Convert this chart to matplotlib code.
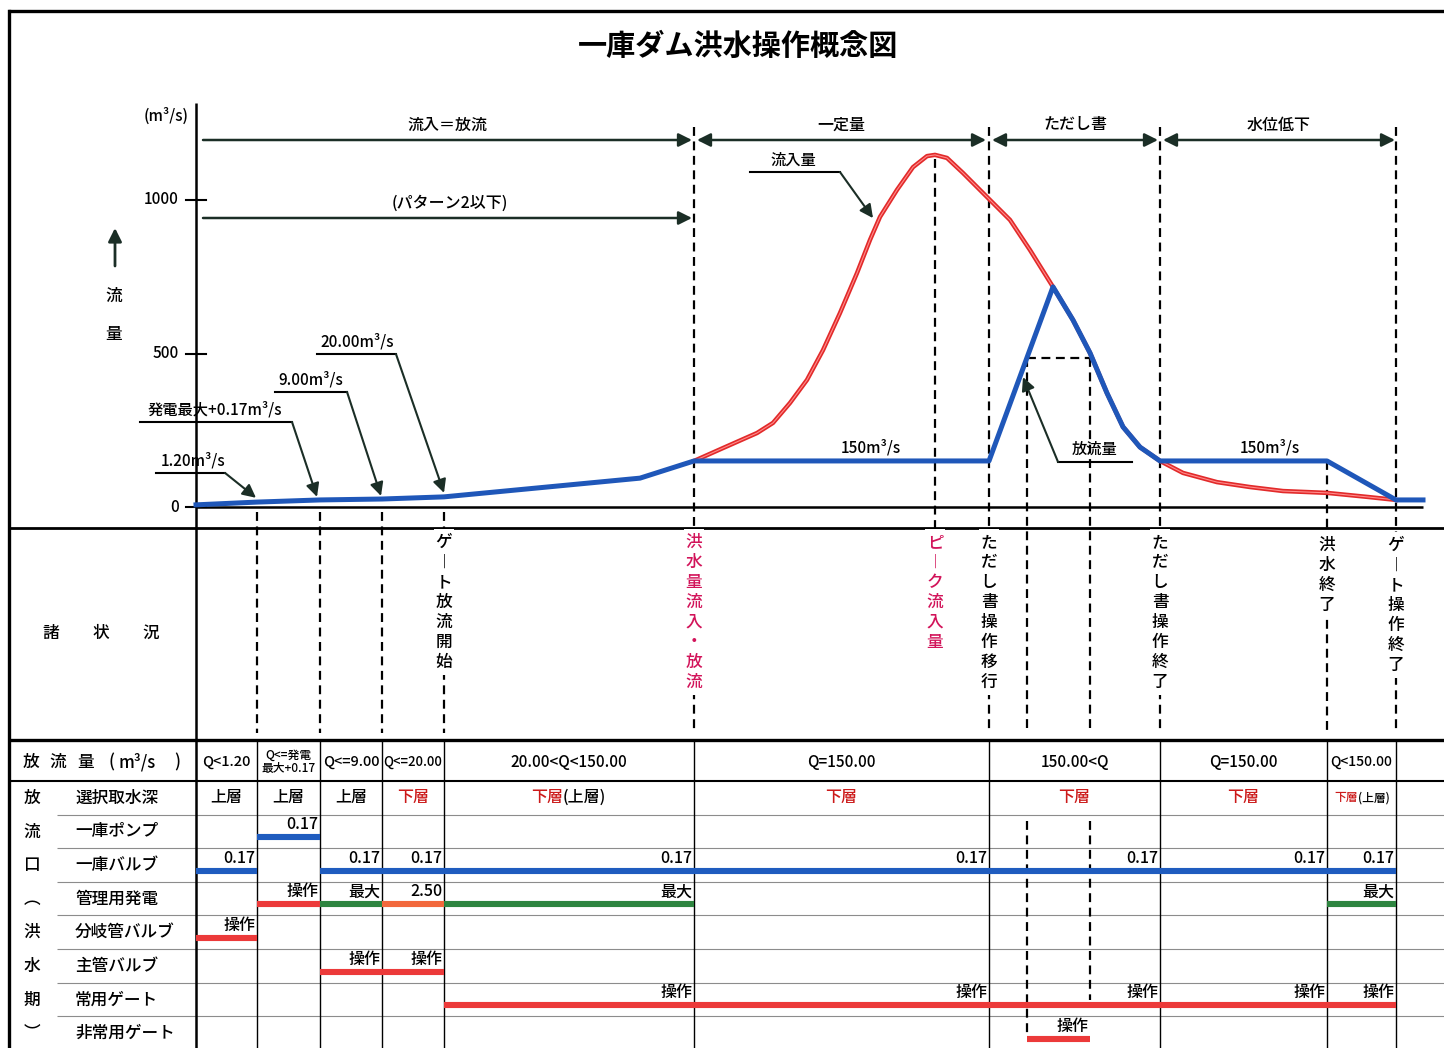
import matplotlib
matplotlib.use('Agg')
import matplotlib.pyplot as plt
from matplotlib.patches import Rectangle

plt.rcParams['font.family'] = ['Noto Sans CJK JP', 'DejaVu Sans']
plt.rcParams['font.weight'] = 'medium'

# ---- data ----
# time in arbitrary units: 0 = start, 120 = end of gate operation
t_inflow = [49.8, 52.7, 56.1, 57.7, 59.4, 61.1, 62.7, 64.4, 66.1, 67.4, 68.4, 70.1,
            71.7, 73.1, 73.9, 75.1, 76.7, 79.4, 81.4, 83.4, 85.7, 87.7, 89.4, 91.1,
            92.7, 94.4, 96.4, 98.7, 102.1, 105.4, 108.7, 113.1, 117.1, 120.0]
q_inflow = [150, 192, 241, 274, 339, 414, 511, 632, 762, 870, 945, 1033,
            1107, 1143, 1147, 1137, 1088, 1000, 935, 837, 717, 609, 502, 371,
            261, 195, 150, 111, 81, 65, 52, 46, 33, 23]

t_outflow = [0, 6.1, 12.4, 18.6, 24.8, 44.4, 49.8, 79.3, 85.7, 87.7, 89.4, 91.1,
             92.7, 94.4, 96.4, 113.1, 120.0, 122.7]
q_outflow = [7, 16, 23, 26, 33, 94, 150, 150, 717, 609, 502, 371,
             261, 195, 150, 150, 23, 23]

y_ticks = [0, 500, 1000]

# phase arrows across the top: (start, end, label, double headed)
phases = [(0.7, 49.6, '流入＝放流', False),
          (50.1, 79.0, '一定量', True),
          (79.6, 96.2, 'ただし書', True),
          (96.7, 119.9, '水位低下', True)]

# event lines: time, label, label colour
events = [(6.1, '', 'k'), (12.4, '', 'k'), (18.6, '', 'k'),
          (24.8, 'ゲート放流開始', 'k'),
          (49.8, '洪水量流入・放流', '#d2145a'),
          (73.9, 'ピーク流入量', '#d2145a'),
          (79.3, 'ただし書操作移行', 'k'),
          (83.1, '', 'k'), (89.4, '', 'k'),
          (96.4, 'ただし書操作終了', 'k'),
          (113.1, '洪水終了', 'k'),
          (120.0, 'ゲート操作終了', 'k')]

# table
col_edges = [0, 6.1, 12.4, 18.6, 24.8, 49.8, 79.3, 96.4, 113.1, 120.0]
q_ranges = ['Q<1.20', 'Q<=発電\n最大+0.17', 'Q<=9.00', 'Q<=20.00', '20.00<Q<150.00',
            'Q=150.00', '150.00<Q', 'Q=150.00', 'Q<150.00']
q_range_size = [10.5, 8.5, 10.5, 9.5, 11, 11, 11, 11, 10]
intake = ['上層', '上層', '上層', '下層', '下層(上層)', '下層', '下層', '下層', '下層(上層)']
row_names = ['選択取水深', '一庫ポンプ', '一庫バルブ', '管理用発電', '分岐管バルブ',
             '主管バルブ', '常用ゲート', '非常用ゲート']
group_chars = ['放', '流', '口', '︵', '洪', '水', '期', '︶']

BLUE, RED, GREEN, ORANGE = '#1f5cbf', '#ec3a3a', '#2e8540', '#f2683c'
# (row, start, end, colour, label)
bars = [(1, 6.1, 12.4, BLUE, '0.17'),
        (2, 0, 6.1, BLUE, '0.17'), (2, 12.4, 18.6, BLUE, '0.17'), (2, 18.6, 24.8, BLUE, '0.17'),
        (2, 24.8, 49.8, BLUE, '0.17'), (2, 49.8, 79.3, BLUE, '0.17'), (2, 79.3, 96.4, BLUE, '0.17'),
        (2, 96.4, 113.1, BLUE, '0.17'), (2, 113.1, 120.0, BLUE, '0.17'),
        (3, 6.1, 12.4, RED, '操作'), (3, 12.4, 18.6, GREEN, '最大'), (3, 18.6, 24.8, ORANGE, '2.50'),
        (3, 24.8, 49.8, GREEN, '最大'), (3, 113.1, 120.0, GREEN, '最大'),
        (4, 0, 6.1, RED, '操作'),
        (5, 12.4, 18.6, RED, '操作'), (5, 18.6, 24.8, RED, '操作'),
        (6, 24.8, 49.8, RED, '操作'), (6, 49.8, 79.3, RED, '操作'), (6, 79.3, 96.4, RED, '操作'),
        (6, 96.4, 113.1, RED, '操作'), (6, 113.1, 120.0, RED, '操作'),
        (7, 83.1, 89.4, RED, '操作')]

# ---- layout helpers (pixel layout of the sheet) ----
Y0_PX, PX_PER_Q = 507, 0.307


def px2t(x):
    return (x - 196) / 10.0


def px2q(y):
    return (Y0_PX - y) / PX_PER_Q


def q2px(q):
    return Y0_PX - PX_PER_Q * q


fig = plt.figure(figsize=(14.44, 10.48), dpi=100)
fig.patch.set_facecolor('white')

ax = fig.add_axes([0, 0, 1, 1])
ax.set_xlim(px2t(0), px2t(1444))
ax.set_ylim(1048, 0)
ax.axis('off')

axh = fig.add_axes([0, 0, 1, 1])
axh.set_xlim(px2t(0), px2t(1444))
axh.set_ylim(px2q(1048), px2q(0))
axh.axis('off')
axh.patch.set_alpha(0)


def hline(y, x0, x1, lw=1.0, color='k'):
    ax.plot([px2t(x0), px2t(x1)], [y, y], color=color, lw=lw, solid_capstyle='butt')


def vline(t, y0, y1, lw=1.0, color='k', ls='-', z=2):
    ax.plot([t, t], [y0, y1], color=color, lw=lw, ls=ls, zorder=z, solid_capstyle='butt')


DASH = (0, (4, 2.5))
HEAD = '#1b2e26'

# frame
hline(11, 8, 1444, lw=2.4)
ax.plot([px2t(9), px2t(9)], [11, 1048], color='k', lw=2.4)
hline(528, 8, 1444, lw=2.0)
hline(740, 8, 1444, lw=2.4)
hline(781, 8, 1444, lw=1.5)
for i in range(1, 8):
    y = 781 + i * 33.6
    hline(y, 57, 1444, lw=0.8, color='#8c8c8c')
vline(0, 103, 1048, lw=1.8)
for t in col_edges[1:]:
    vline(t, 740, 1048, lw=1.0)

ax.text(px2t(738), 46, '一庫ダム洪水操作概念図', fontsize=21, fontweight='bold',
        ha='center', va='center')

# y axis
axh.plot([0, 122.7], [0, 0], color='k', lw=1.8, solid_capstyle='butt')
for q in y_ticks:
    axh.plot([-1.0, 1.0], [q, q], color='k', lw=1.5)
    axh.text(-1.7, q, str(q), ha='right', va='center', fontsize=11)
ax.text(px2t(166), 116, '(m³/s)', ha='center', va='center', fontsize=11)
ax.annotate('', xy=(px2t(115), 228), xytext=(px2t(115), 266),
            arrowprops=dict(arrowstyle='-|>', color=HEAD, lw=2, mutation_scale=20,
                            shrinkA=0, shrinkB=0))
ax.text(px2t(114), 296, '流', ha='center', va='center', fontsize=12)
ax.text(px2t(114), 334, '量', ha='center', va='center', fontsize=12)

# phase arrows
for t0, t1, label, both in phases:
    style = '<|-|>' if both else '-|>'
    ax.annotate('', xy=(t1, 140), xytext=(t0, 140),
                arrowprops=dict(arrowstyle=style, color=HEAD, lw=1.8, mutation_scale=20,
                                shrinkA=0, shrinkB=0))
    ax.text((t0 + t1) / 2, 125, label, ha='center', va='center', fontsize=11.5)
ax.annotate('', xy=(49.6, 218), xytext=(0.7, 218),
            arrowprops=dict(arrowstyle='-|>', color=HEAD, lw=1.8, mutation_scale=20,
                            shrinkA=0, shrinkB=0))
ax.text(px2t(450), 203, '(パターン2以下)', ha='center', va='center', fontsize=11.5)

# event lines and vertical labels
line_top = {49.8: 127, 73.9: q2px(max(q_inflow)) + 4, 79.3: 127, 83.1: q2px(485),
            89.4: q2px(485), 96.4: 127, 113.1: q2px(150), 120.0: 127}
for t, label, color in events:
    top = line_top.get(t, 512)
    bottom = 540 if t == 73.9 else 733
    vline(t, top, bottom, lw=1.6, ls=DASH)
    if label:
        y0 = 545 if t >= 113 else 542
        chars = label.replace('ー', '︱')
        for i, ch in enumerate(chars):
            ax.text(t, y0 + 20 * i, ch, ha='center', va='center', fontsize=12,
                    color=color, zorder=5)
        ax.add_patch(Rectangle((t - 1.0, y0 - 13), 2.0, 20 * (len(chars) - 1) + 26,
                               facecolor='white', edgecolor='none', zorder=4))
# dashed box top and dashed lines inside the table
ax.plot([83.1, 89.4], [q2px(485), q2px(485)], color='k', lw=1.6, ls=DASH)
vline(83.1, 821, 1034, lw=1.6, ls=DASH)
vline(89.4, 821, 1000, lw=1.6, ls=DASH)

# hydrograph
axh.plot(t_inflow, q_inflow, color='#e22a2a', lw=3.2, zorder=3, solid_joinstyle='round')
axh.plot(t_inflow, q_inflow, color='#ff8c8c', lw=0.8, zorder=3.1, solid_joinstyle='round')
axh.plot(t_outflow, q_outflow, color='#1f57b9', lw=3.6, zorder=4, solid_joinstyle='round')

# leader labels: text, text x, underline (x0, x1, q), arrow target (t, q)
leaders = [('1.20m³/s', -0.3, (-4.0, 2.9, 111), (6.0, 30)),
           ('発電最大+0.17m³/s', 1.9, (-5.6, 9.6, 277), (12.1, 33)),
           ('9.00m³/s', 11.5, (7.9, 15.1, 375), (18.5, 36)),
           ('20.00m³/s', 16.1, (12.1, 20.0, 498), (24.8, 46)),
           ('流入量', 59.7, (55.4, 64.4, 1091), (67.7, 941)),
           ('放流量', 89.9, (86.2, 93.6, 147), (82.7, 423))]
for text, tx, (u0, u1, uq), (at, aq) in leaders:
    axh.plot([u0, u1], [uq, uq], color='k', lw=1.5)
    axh.text(tx, uq + 12, text, ha='center', va='bottom', fontsize=11)
    start = u0 if at < u0 else u1
    axh.annotate('', xy=(at, aq), xytext=(start, uq),
                 arrowprops=dict(arrowstyle='-|>', color=HEAD, lw=1.5, mutation_scale=20,
                                 shrinkA=0, shrinkB=0), zorder=6)
axh.text(px2t(871), 150 + 14, '150m³/s', ha='center', va='bottom', fontsize=11)
axh.text(px2t(1270), 150 + 14, '150m³/s', ha='center', va='bottom', fontsize=11)

# 諸状況
for x, ch in zip([51, 101, 151], '諸状況'):
    ax.text(px2t(x), 633, ch, ha='center', va='center', fontsize=12)

# table header
for x, s in zip([31, 58, 86, 111, 137, 177], ['放', '流', '量', '(', 'm³/s', ')']):
    ax.text(px2t(x), 762, s, ha='center', va='center', fontsize=12)
for i, s in enumerate(q_ranges):
    cx = (col_edges[i] + col_edges[i + 1]) / 2
    ax.text(cx, 762, s, ha='center', va='center', fontsize=q_range_size[i], linespacing=1.0)

row_top = [781 + i * 33.6 for i in range(8)]
for i, (ch, name) in enumerate(zip(group_chars, row_names)):
    yc = row_top[i] + 16.8
    ax.text(px2t(32), yc, ch, ha='center', va='center', fontsize=12)
    ax.text(px2t(75), yc, name, ha='left', va='center', fontsize=12)

# intake depth row
for i, s in enumerate(intake):
    cx = (col_edges[i] + col_edges[i + 1]) / 2
    yc = row_top[0] + 16.8
    small = i == len(intake) - 1
    fs = 8.5 if small else 11.5
    if s.startswith('下層'):
        rest = s[2:]
        if rest:
            off = -0.35 if small else -0.6
            t1 = ax.text(cx + off, yc, '下層', ha='right', va='center', fontsize=fs, color='#cc1a1a')
            ax.annotate(rest, xy=(1, 0.5), xycoords=t1, ha='left', va='center', fontsize=fs)
        else:
            ax.text(cx, yc, s, ha='center', va='center', fontsize=fs, color='#cc1a1a')
    else:
        ax.text(cx, yc, s, ha='center', va='center', fontsize=fs)

# operation bars
for row, t0, t1, color, label in bars:
    yb = row_top[row] + 33.6 - 11
    ax.plot([t0, t1], [yb, yb], color=color, lw=4.4, solid_capstyle='butt', zorder=3)
    ax.text(t1 - 0.2, yb - 4, label, ha='right', va='bottom', fontsize=11.5)

fig.savefig('out.png', dpi=100)
